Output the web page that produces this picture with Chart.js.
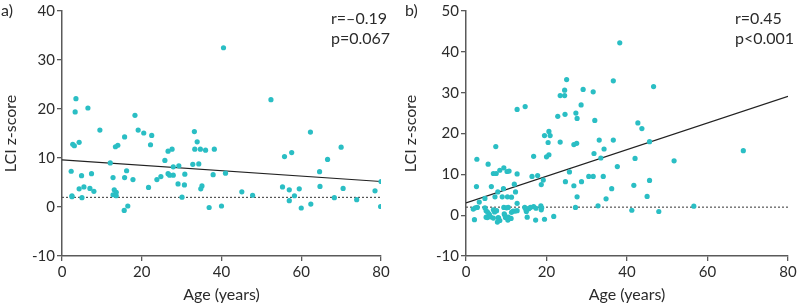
<!DOCTYPE html>
<html>
<head>
<meta charset="utf-8">
<script src="https://cdn.jsdelivr.net/npm/chart.js@4.4.1/dist/chart.umd.min.js"></script>
<style>
  body { margin: 0; background: #fff; font-family: Lato, sans-serif; color: #2b2b2b; }
  .panel { position: absolute; top: 0; height: 306px; }
  .lbl { position: absolute; font-size: 16px; line-height: 20px; white-space: nowrap; color: #2b2b2b; }
</style>
</head>
<body>
<div class="panel" style="left:0;width:400px"><canvas id="chartA"></canvas></div>
<div class="panel" style="left:400px;width:399px"><canvas id="chartB"></canvas></div>

<div class="lbl" style="left:1px;top:0px">a)</div>
<div class="lbl" style="left:331px;top:8px">r=–0.19</div>
<div class="lbl" style="left:331px;top:28px">p=0.067</div>
<div class="lbl" style="left:405px;top:0px">b)</div>
<div class="lbl" style="left:735px;top:8px">r=0.45</div>
<div class="lbl" style="left:735px;top:28px">p&lt;0.001</div>

<script>
// panel a) - age vs LCI z-score
const ageA = [3.5, 3.3, 6.5, 9.5, 18.3, 19.1, 20.5, 22.5, 15.7, 22.2, 2.7, 3.1, 4.3, 13.4, 14.0, 12.1,
  2.3, 4.9, 7.4, 12.8, 15.7, 16.2, 17.8, 4.3, 5.5, 7.0, 8.0, 2.5, 2.5, 5.0, 13.1, 13.6, 12.8, 13.6,
  15.6, 16.5, 21.7, 25.8, 26.6, 27.6, 27.9, 29.3, 23.8, 24.8, 26.6, 27.0, 27.9, 30.8, 29.1, 30.7,
  30.1, 33.2, 33.9, 33.3, 34.7, 36.0, 38.2, 32.8, 34.3, 37.9, 41.0, 35.1, 34.8, 36.9, 40.0, 40.5,
  52.4, 62.3, 70.0, 55.8, 57.6, 66.6, 64.6, 80.0, 78.5, 79.9, 45.1, 47.8, 55.3, 57.0, 58.3, 59.5,
  57.0, 60.0, 62.4, 64.7, 68.3, 70.5, 73.9];
const lciA = [22.1, 19.4, 20.2, 15.7, 18.7, 15.7, 15.1, 14.6, 14.3, 12.7, 12.8, 12.5, 13.2, 12.3, 12.6, 9.0,
  7.3, 6.4, 6.8, 6.0, 6.0, 7.4, 5.6, 3.7, 4.1, 3.8, 3.2, 2.3, 2.1, 1.9, 3.5, 3.0, 2.5, 2.3,
  -0.7, 0.2, 4.0, 9.5, 11.4, 11.8, 8.2, 8.4, 5.6, 6.2, 6.8, 6.5, 6.5, 6.7, 4.7, 4.5,
  2.0, 15.4, 13.3, 11.8, 11.8, 11.6, 11.8, 8.7, 8.8, 6.6, 6.9, 4.3, 3.7, -0.1, 0.2, 32.5,
  21.9, 15.3, 12.2, 10.3, 11.1, 9.7, 7.2, 5.2, 3.3, 0.1, 3.1, 2.4, 4.1, 3.5, 2.3, 3.7,
  1.3, -0.2, 0.6, 4.2, 1.9, 3.8, 1.5];
const fitA = [9.6, 5.2];   // regression line at age 0 and 80

// panel b)
const ageB = [25.0, 24.5, 23.4, 24.5, 29.1, 31.6, 28.6, 12.7, 14.7, 22.8, 24.6, 27.3, 27.6, 32.0, 33.1,
  19.5, 20.6, 20.9, 20.4, 23.4, 26.8, 27.5, 7.4,
  38.2, 36.6, 46.6, 42.7, 43.7, 36.6, 34.3, 45.6, 68.9,
  51.7, 42.0, 37.6, 31.8, 33.5, 31.6, 34.1, 41.7, 45.6, 36.2, 34.8, 45.0, 32.8, 41.2, 47.9, 56.6,
  25.7, 30.5, 24.7, 26.8, 28.7, 27.6, 27.2, 21.8,
  2.7, 5.5, 16.8, 20.0, 20.6, 9.4, 8.4, 6.8, 7.5, 10.2, 10.7, 12.7, 16.4, 17.8, 19.2, 18.7, 12.0,
  2.6, 6.3, 9.3, 7.9, 12.3, 4.7, 7.2, 9.0, 10.3, 11.3, 3.3, 12.7,
  1.8, 2.3, 2.8, 2.1, 4.7, 5.0, 5.4, 5.8, 5.0, 5.3, 6.1, 6.8, 7.1, 7.6, 6.8, 8.0, 7.8, 8.4, 8.1,
  9.4, 10.1, 10.5, 9.5, 9.6, 9.8, 10.4, 10.5, 11.2, 11.3, 11.7, 12.2, 12.7, 14.6, 14.9, 15.6, 16.0,
  15.2, 15.0, 16.8, 17.4, 17.3, 18.6, 18.8, 18.7, 19.5];
const lciB = [33.2, 30.6, 29.3, 29.3, 30.8, 30.2, 27.0, 25.9, 26.6, 24.2, 24.7, 25.0, 23.7, 23.2, 18.4,
  19.5, 20.5, 19.5, 17.8, 17.9, 17.3, 17.6, 16.8,
  42.2, 32.9, 31.5, 22.6, 21.2, 18.4, 16.2, 18.0, 15.8,
  13.3, 13.9, 11.9, 15.1, 14.0, 9.5, 9.5, 7.3, 8.5, 6.5, 4.0, 4.6, 2.3, 1.2, 0.9, 2.2,
  10.6, 9.5, 8.2, 7.2, 8.2, 4.5, 1.9, -0.3,
  13.7, 12.5, 14.4, 14.3, 14.8, 11.6, 11.0, 10.2, 10.2, 10.7, 10.8, 10.1, 9.5, 9.7, 8.6, 7.5, 7.6,
  7.0, 7.0, 6.5, 5.7, 5.7, 4.1, 4.5, 4.5, 4.5, 4.4, 3.2, 2.9,
  1.5, 1.8, 1.9, -1.1, 1.8, 1.1, 0.7, 0.2, -0.5, -0.6, -0.4, 1.3, 0.8, 1.1, -0.7, -0.6, -1.7, -1.3, -0.7,
  1.9, 1.8, 1.9, 0.3, 0.1, -0.6, -1.2, -0.5, -0.8, 0.7, 1.0, 1.0, 1.1, 1.9, 1.3, 1.6, 1.9,
  -0.5, 0.9, 2.1, 1.7, -1.2, 2.3, 1.8, 1.3, -1.0];
const fitB = [3.0, 29.1];

const xTicks = [0, 20, 40, 60, 80];
const normalLimit = 1.96;

const dotColor = 'rgb(42, 190, 196)';
const axisColor = '#5a5a5a';
const tickFont = { family: 'Lato', size: 15 };
const titleFont = { family: 'Lato', size: 16 };

function makePanel(id, ages, lcis, fit, yMax, yAxisWidth, padRight) {
  const pts = ages.map((a, i) => ({ x: a, y: lcis[i] }));
  new Chart(document.getElementById(id), {
    type: 'scatter',
    data: {
      datasets: [
        { data: pts, backgroundColor: dotColor, borderWidth: 0, pointRadius: 2.6 },
        { type: 'line', data: [{ x: 0, y: fit[0] }, { x: 80, y: fit[1] }],
          borderColor: '#222', borderWidth: 1.2, pointRadius: 0 },
        { type: 'line', data: [{ x: 0, y: normalLimit }, { x: 80, y: normalLimit }],
          borderColor: '#555', borderWidth: 1.2, borderDash: [2, 2], pointRadius: 0 }
      ]
    },
    options: {
      responsive: true,
      maintainAspectRatio: false,
      animation: false,
      layout: { padding: { top: 8, right: padRight, left: 0, bottom: 0 } },
      plugins: { legend: { display: false }, tooltip: { enabled: false } },
      scales: {
        x: {
          type: 'linear', min: 0, max: 80,
          afterBuildTicks: s => { s.ticks = xTicks.map(v => ({ value: v })); },
          afterFit: s => { s.height = 50; },
          ticks: { color: '#2b2b2b', font: tickFont, padding: 2 },
          grid: { drawOnChartArea: false, tickLength: 5, color: axisColor, lineWidth: 1.3 },
          border: { color: axisColor, width: 1.5 },
          title: { display: true, text: 'Age (years)', color: '#2b2b2b', font: titleFont, padding: { top: 2, bottom: 2 } }
        },
        y: {
          min: -10, max: yMax,
          ticks: { stepSize: 10, color: '#2b2b2b', font: tickFont, padding: 2 },
          afterFit: s => { s.width = yAxisWidth; },
          grid: { drawOnChartArea: false, tickLength: 5, color: axisColor, lineWidth: 1.3 },
          border: { color: axisColor, width: 1.5 },
          title: { display: true, text: 'LCI z-score', color: '#2b2b2b', font: titleFont, padding: { top: 1, bottom: 2 } }
        }
      }
    }
  });
}

makePanel('chartA', ageA, lciA, fitA, 40, 62, 19);
makePanel('chartB', ageB, lciB, fitB, 50, 66, 11);
</script>
</body>
</html>
